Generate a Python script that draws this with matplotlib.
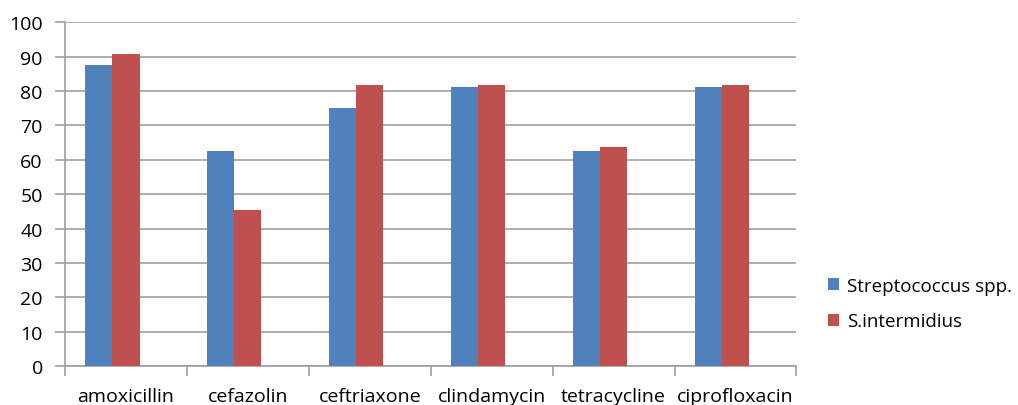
import matplotlib.pyplot as plt
import numpy as np

# dane
antibiotics = ['amoxicillin', 'cefazolin', 'ceftriaxone', 'clindamycin', 'tetracycline', 'ciprofloxacin']
strep = [87.5, 62.5, 75.0, 81.25, 62.5, 81.25]
inter = [90.9, 45.45, 81.8, 81.8, 63.6, 81.8]

plt.rcParams['font.family'] = ['Open Sans', 'DejaVu Sans']

fig = plt.figure(figsize=(10.18, 4.06), dpi=100)
ax = fig.add_axes([0.0639, 0.096, 0.7185, 0.8466])

x = np.arange(len(antibiotics))
w = 0.222
# w Excelu byla trzecia pusta seria, stad przesuniecie w lewo
ax.bar(x - w, strep, w, color='#4F81BD', label='Streptococcus spp.', zorder=3)
ax.bar(x, inter, w, color='#C0504D', label='S.intermidius', zorder=3)

ax.set_xlim(-0.5, len(antibiotics) - 0.5)
ax.set_ylim(0, 100)
ax.set_yticks(range(0, 101, 10))
ax.set_xticks(np.arange(-0.5, len(antibiotics), 1))
ax.set_xticklabels([])
ax.set_xticks(x, minor=True)
ax.set_xticklabels(antibiotics, minor=True)
ax.tick_params(axis='x', which='minor', length=0, pad=15, labelsize=14)
ax.tick_params(axis='x', which='major', length=7, color='#A0A0A0', width=1.2)
ax.tick_params(axis='y', length=7, color='#A0A0A0', width=1.2, labelsize=14, pad=9)
ax.grid(axis='y', color='#A0A0A0', linewidth=1.2, zorder=0)
for s in ['top', 'right']:
    ax.spines[s].set_visible(False)
for s in ['left', 'bottom']:
    ax.spines[s].set_color('#A0A0A0')
    ax.spines[s].set_linewidth(1.2)

fig.legend(loc='center left', bbox_to_anchor=(0.797, 0.25), frameon=False,
           fontsize=13.5, handlelength=0.6, handleheight=0.6, handletextpad=0.4,
           labelspacing=0.95)

fig.savefig('out.png', dpi=100)
